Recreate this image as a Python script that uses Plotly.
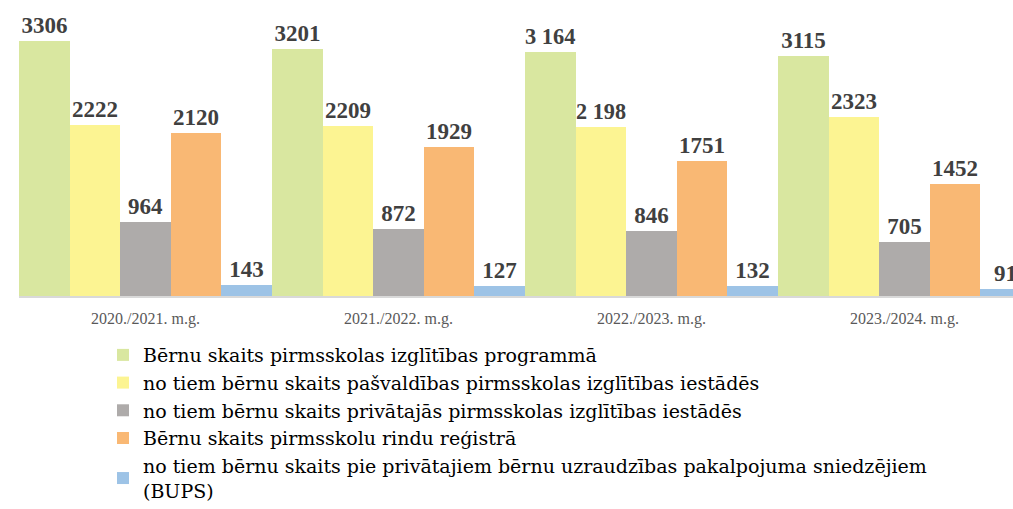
import plotly.graph_objects as go

categories = ["2020./2021. m.g.", "2021./2022. m.g.", "2022./2023. m.g.", "2023./2024. m.g."]
series_names = [
    "Bērnu skaits pirmsskolas izglītības programmā",
    "no tiem bērnu skaits pašvaldības pirmsskolas izglītības iestādēs",
    "no tiem bērnu skaits privātajās pirmsskolas izglītības iestādēs",
    "Bērnu skaits pirmsskolu rindu reģistrā",
    "no tiem bērnu skaits pie privātajiem bērnu uzraudzības pakalpojuma sniedzējiem<br>(BUPS)",
]
total_prog = [3306, 3201, 3164, 3115]
municipal = [2222, 2209, 2198, 2323]
private = [964, 872, 846, 705]
queue = [2120, 1929, 1751, 1452]
bups = [143, 127, 132, 91]
label_total = ["3306", "3201", "3 164", "3115"]
label_municipal = ["2222", "2209", "2 198", "2323"]
label_private = ["964", "872", "846", "705"]
label_queue = ["2120", "1929", "1751", "1452"]
label_bups = ["143", "127", "132", "91"]

values = [total_prog, municipal, private, queue, bups]
labels = [label_total, label_municipal, label_private, label_queue, label_bups]
colors = ["#d9e7a0", "#fcf492", "#aeabaa", "#f9b874", "#9dc3e6"]

fig = go.Figure()
for name, vals, labs, col in zip(series_names, values, labels, colors):
    fig.add_trace(go.Bar(
        x=categories, y=vals, name=name, text=labs,
        textposition="outside", cliponaxis=False,
        marker=dict(color=col, line=dict(width=0)),
        textfont=dict(family="Liberation Serif", size=23, color="#404040", weight="bold"),
    ))

fig.update_layout(
    width=1013, height=509,
    margin=dict(l=19, r=0, t=10, b=213, autoexpand=False),
    barmode="group", bargap=0, bargroupgap=0,
    plot_bgcolor="white", paper_bgcolor="white",
    font=dict(family="Liberation Serif"),
    xaxis=dict(range=[-0.5, -0.5 + 994 / 253], showline=True, linecolor="#d9d9d9", linewidth=1.5,
               ticks="outside", ticklen=7, tickcolor="rgba(0,0,0,0)",
               tickfont=dict(size=16, color="#595959"), showgrid=False),
    yaxis=dict(range=[0, 3710], visible=False, showgrid=False),
    legend=dict(x=0.0845, y=-0.14, xanchor="left", yanchor="top", orientation="v",
                font=dict(family="DejaVu Serif", size=19, color="#000000"),
                tracegroupgap=0, traceorder="normal"),
)

fig.write_html("out.html", config={"displayModeBar": False},
               post_script="document.body.style.margin='0';")
